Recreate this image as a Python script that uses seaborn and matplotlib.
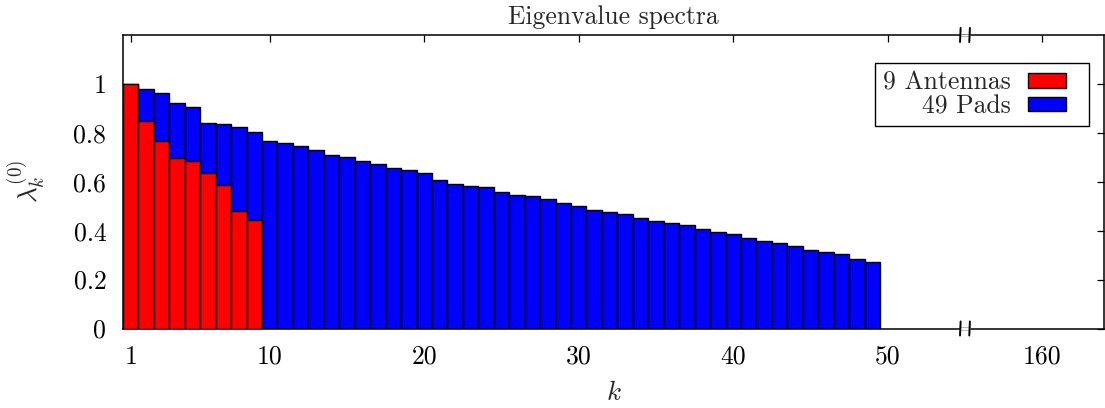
import matplotlib
matplotlib.use("Agg")
import matplotlib.pyplot as plt
import matplotlib.patches as mpatches
from matplotlib.legend_handler import HandlerPatch
from matplotlib.transforms import blended_transform_factory
import numpy as np
import pandas as pd
import seaborn as sns

# Normalised eigenvalues lambda_k^(0) for the two array layouts
antenna_k = list(range(1, 10))
antenna_vals = [1.000, 0.849, 0.766, 0.696, 0.685, 0.635, 0.587, 0.479, 0.442]

pad_k = list(range(1, 50))
pad_vals = [1.000, 0.981, 0.962, 0.921, 0.906, 0.842, 0.836, 0.823, 0.802, 0.767,
            0.759, 0.745, 0.729, 0.708, 0.700, 0.684, 0.674, 0.656, 0.650, 0.637,
            0.607, 0.591, 0.583, 0.577, 0.560, 0.545, 0.542, 0.530, 0.515, 0.501,
            0.486, 0.478, 0.468, 0.451, 0.441, 0.433, 0.422, 0.407, 0.395, 0.385,
            0.370, 0.358, 0.351, 0.337, 0.320, 0.313, 0.305, 0.283, 0.272]

series_labels = ["9 Antennas", "49 Pads"]
xtick_values = [1, 10, 20, 30, 40, 50, 160]
ytick_values = [0, 0.2, 0.4, 0.6, 0.8, 1.0]
ytick_labels = ["0", "0.2", "0.4", "0.6", "0.8", "1"]

# broken x axis: everything beyond the break is shifted left by BREAK_SHIFT
BREAK_AT = 55
BREAK_SHIFT = 100


def axis_pos(v):
    return v if v <= BREAK_AT else v - BREAK_SHIFT


sns.set_style("white")
plt.rcParams["font.family"] = ["cmr10", "DejaVu Serif"]
plt.rcParams["mathtext.fontset"] = "cm"
plt.rcParams["axes.formatter.use_mathtext"] = True

FS = 18.5
fig = plt.figure(figsize=(11.05, 4.08), dpi=100)
ax = fig.add_axes([123 / 1105, 1 - 328.5 / 408, (1104 - 123) / 1105, (328.5 - 35) / 408])

pads_df = pd.DataFrame({"k": pad_k, "value": pad_vals})
ant_df = pd.DataFrame({"k": antenna_k, "value": antenna_vals})

sns.barplot(data=pads_df, x="k", y="value", native_scale=True, width=1.0,
            color="#0000ff", saturation=1, edgecolor="black", linewidth=1.0,
            ax=ax, zorder=2)
sns.barplot(data=ant_df, x="k", y="value", native_scale=True, width=1.0,
            color="#ff0000", saturation=1, edgecolor="black", linewidth=1.0,
            ax=ax, zorder=3)

ax.set_xlim(0.5, 64.0)
ax.set_ylim(0, 1.2)

ax.set_xticks([axis_pos(v) for v in xtick_values])
ax.set_xticklabels([str(v) for v in xtick_values])
ax.set_yticks(ytick_values)
ax.set_yticklabels(ytick_labels)
ax.tick_params(axis="both", which="major", direction="in", length=5, width=0.9,
               top=True, right=True, labelsize=FS, colors="black")
ax.tick_params(axis="y", pad=12)
ax.tick_params(axis="x", pad=12)

for s in ax.spines.values():
    s.set_visible(True)
    s.set_color("black")
    s.set_linewidth(1.1)

ax.set_title("Eigenvalue spectra", fontsize=FS, pad=8)
ax.set_xlabel("$k$", fontsize=FS + 1, labelpad=9)
ax.set_ylabel(r"$\lambda_k^{(0)}$", fontsize=FS + 1, labelpad=18)

# break marks on the top and bottom frame lines
trans = blended_transform_factory(ax.transData, ax.transAxes)
half_gap = 0.3
mark = 0.024
for yb in (0.0, 1.0):
    ax.add_patch(mpatches.Rectangle((BREAK_AT - half_gap, yb - 0.005), 2 * half_gap, 0.01,
                                    transform=trans, facecolor="white", edgecolor="#888888",
                                    linewidth=0.4, clip_on=False, zorder=10))
    for xb in (BREAK_AT - half_gap, BREAK_AT + half_gap):
        ax.plot([xb - 0.02, xb + 0.02], [yb - mark, yb + mark], transform=trans,
                color="black", linewidth=1.4, clip_on=False, zorder=11)


def swatch(legend, orig_handle, xdescent, ydescent, width, height, fontsize):
    # swatch occupies the left part of the handle box, leaving a right margin
    return mpatches.Rectangle((-xdescent, -ydescent), width * 0.72, height)


handles = [mpatches.Patch(facecolor="#ff0000", edgecolor="black", linewidth=1.0),
           mpatches.Patch(facecolor="#0000ff", edgecolor="black", linewidth=1.0)]
leg = ax.legend(handles, series_labels, loc="upper right", bbox_to_anchor=(0.985, 0.905),
                markerfirst=False, fontsize=FS, frameon=True, fancybox=False,
                framealpha=1, edgecolor="black", handlelength=2.1, handleheight=0.5,
                handletextpad=0.65, labelspacing=0.0, borderpad=0.3, borderaxespad=0,
                handler_map={mpatches.Patch: HandlerPatch(patch_func=swatch)})
leg.get_frame().set_linewidth(1.0)

fig.savefig("out.png", dpi=100)
